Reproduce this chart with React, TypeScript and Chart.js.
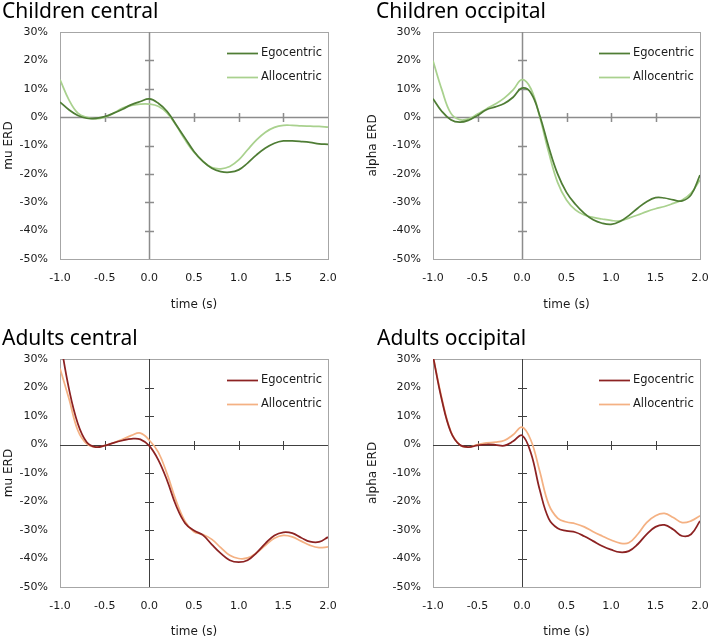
import React, { useEffect, useRef } from "react";
import { Chart, registerables } from "chart.js";

Chart.register(...registerables);

// ---------- data ----------
const TIME = [
  -1.0, -0.9, -0.8, -0.7, -0.6, -0.5, -0.4, -0.3, -0.2, -0.1,
  0.0, 0.1, 0.2, 0.3, 0.4, 0.5, 0.6, 0.7, 0.8, 0.9,
  1.0, 1.1, 1.2, 1.3, 1.4, 1.5, 1.6, 1.7, 1.8, 1.9, 2.0,
];
const X_TICKS = [-1.0, -0.5, 0.0, 0.5, 1.0, 1.5, 2.0];
const Y_TICKS = [-50, -40, -30, -20, -10, 0, 10, 20, 30];
const SERIES_NAMES = ["Egocentric", "Allocentric"];

const CHILD_CENTRAL_EGO = [
  5.3, 2.6, 0.6, -0.4, -0.4, 0.2, 1.4, 2.8, 4.4, 5.5,
  6.4, 4.9, 2.0, -2.7, -7.4, -12.1, -15.6, -18.0, -19.2, -19.4,
  -18.6, -16.2, -13.3, -10.9, -9.2, -8.4, -8.4, -8.6, -8.9, -9.4, -9.6,
];
const CHILD_CENTRAL_ALLO = [
  13.2, 6.1, 1.4, -0.1, -0.6, -0.1, 1.4, 3.2, 4.1, 4.6,
  4.6, 3.8, 1.4, -2.9, -8.0, -12.4, -15.6, -17.8, -18.2, -17.4,
  -15.1, -11.5, -8.0, -5.3, -3.6, -2.9, -2.9, -3.1, -3.2, -3.3, -3.5,
];
const CHILD_OCC_EGO = [
  6.5, 2.0, -0.9, -1.8, -1.1, 0.6, 2.6, 3.6, 4.8, 7.0,
  10.2, 8.5, 0.5, -10.5, -20.0, -26.5, -30.7, -33.9, -36.2, -37.4,
  -37.8, -36.8, -34.7, -32.1, -29.8, -28.4, -28.5, -29.2, -29.5, -27.4, -20.4,
];
const CHILD_OCC_ALLO = [
  19.9, 9.6, 1.4, -0.9, -0.6, 1.1, 2.9, 4.6, 6.7, 9.6,
  13.2, 10.0, 0.0, -12.4, -23.0, -29.2, -32.7, -34.5, -35.3, -35.9,
  -36.4, -36.6, -35.6, -34.5, -33.3, -32.3, -31.5, -30.4, -29.2, -26.8, -22.1,
];
const ADULT_CENTRAL_EGO = [
  37.0, 19.6, 7.3, 0.8, -0.9, -0.4, 0.6, 1.4, 2.0, 1.8,
  -0.5, -5.4, -12.7, -21.5, -27.6, -30.2, -31.8, -35.1, -38.2, -40.6,
  -41.3, -40.6, -38.0, -34.7, -31.9, -30.8, -31.1, -32.7, -34.1, -34.2, -32.5,
];
const ADULT_CENTRAL_ALLO = [
  26.7, 16.1, 4.9, 0.2, -0.9, -0.4, 0.6, 1.8, 3.2, 4.0,
  1.5, -2.7, -10.4, -19.8, -27.0, -30.6, -31.6, -33.3, -36.2, -38.9,
  -40.0, -39.8, -38.0, -35.4, -32.9, -31.9, -32.4, -33.9, -35.4, -36.2, -35.9,
];
const ADULT_OCC_EGO = [
  31.0, 15.5, 4.4, -0.1, -0.9, -0.3, 0.0, -0.1, -0.4, 1.1,
  3.2, -3.0, -16.0, -26.0, -29.4, -30.3, -30.8, -32.2, -33.9, -35.6,
  -36.9, -37.8, -37.4, -35.0, -31.5, -28.9, -28.2, -29.8, -32.1, -31.5, -26.8,
];
const ADULT_OCC_ALLO = [
  31.0, 16.1, 4.6, -0.1, -0.9, 0.0, 0.6, 0.8, 1.4, 3.4,
  6.1, 1.5, -9.5, -21.0, -25.8, -27.2, -27.8, -28.9, -30.6, -32.1,
  -33.5, -34.6, -34.5, -31.5, -27.4, -25.0, -24.2, -25.6, -27.4, -26.8, -25.0,
];

// ---------- styling ----------
const FONT = "'DejaVu Sans', 'Noto Sans', sans-serif";
const TITLE_FONT = "'Noto Sans', 'DejaVu Sans', sans-serif";
const TEXT = "#1a1a1a";

type PanelSpec = {
  title: string;
  yTitle: string;
  ego: number[];
  allo: number[];
  egoColor: string;
  alloColor: string;
  axisColor: string;
  axisWidth: number;
  left: number;
  top: number;
  width: number;
  height: number;
  areaLeft: number;
  areaRight: number;
  areaTop: number;
  areaBottom: number;
  yTitlePad: number;
  titleX: number;
  titleY: number;
};

const crossAxesPlugin = {
  id: "crossAxes",
  beforeDatasetsDraw(chart: any, _args: any, opts: any) {
    const { ctx, chartArea: a, scales } = chart;
    const xs = scales.x;
    const ys = scales.y;
    const x0 = Math.round(xs.getPixelForValue(0)) + 0.5;
    const y0 = Math.round(ys.getPixelForValue(0)) + 0.5;
    ctx.save();
    // plot border
    ctx.strokeStyle = "#a6a6a6";
    ctx.lineWidth = 1;
    ctx.strokeRect(
      Math.round(a.left) + 0.5,
      Math.round(a.top) + 0.5,
      Math.round(a.right) - Math.round(a.left),
      Math.round(a.bottom) - Math.round(a.top)
    );
    // crossing axes
    ctx.strokeStyle = opts.color;
    ctx.lineWidth = opts.width;
    ctx.beginPath();
    ctx.moveTo(x0, a.top);
    ctx.lineTo(x0, a.bottom);
    ctx.moveTo(a.left, y0);
    ctx.lineTo(a.right, y0);
    // tick marks on vertical axis
    Y_TICKS.forEach((v) => {
      if (v === 0 || v === Y_TICKS[0] || v === Y_TICKS[Y_TICKS.length - 1]) return;
      const py = Math.round(ys.getPixelForValue(v)) + 0.5;
      ctx.moveTo(x0 - 4.5, py);
      ctx.lineTo(x0 + 4.5, py);
    });
    // tick marks on horizontal axis
    X_TICKS.forEach((v) => {
      if (v === 0 || v === X_TICKS[0] || v === X_TICKS[X_TICKS.length - 1]) return;
      const px = Math.round(xs.getPixelForValue(v)) + 0.5;
      ctx.moveTo(px, y0 - 4.5);
      ctx.lineTo(px, y0 + 4.5);
    });
    ctx.stroke();
    ctx.restore();
  },
};

const innerLegendPlugin = {
  id: "innerLegend",
  afterDatasetsDraw(chart: any) {
    const { ctx, chartArea: a } = chart;
    ctx.save();
    ctx.font = `11.5px ${FONT}`;
    ctx.textBaseline = "middle";
    ctx.textAlign = "left";
    chart.data.datasets.forEach((ds: any, i: number) => {
      const y = a.top + 21.5 + i * 24;
      ctx.strokeStyle = ds.borderColor;
      ctx.lineWidth = 1.75;
      ctx.beginPath();
      ctx.moveTo(a.right - 101, y);
      ctx.lineTo(a.right - 70, y);
      ctx.stroke();
      ctx.fillStyle = TEXT;
      ctx.fillText(ds.label, a.right - 67, y);
    });
    ctx.restore();
  },
};

function Panel({ spec }: { spec: PanelSpec }) {
  const ref = useRef<HTMLCanvasElement | null>(null);

  useEffect(() => {
    const canvas = ref.current;
    if (!canvas) return;
    const s = spec;
    const tickFont = { family: FONT, size: 11 };
    const titleFont = { family: FONT, size: 12, lineHeight: 1.2 };
    const chart = new Chart(canvas, {
      type: "line",
      data: {
        datasets: [
          {
            label: SERIES_NAMES[0],
            data: TIME.map((t, i) => ({ x: t, y: s.ego[i] })),
            borderColor: s.egoColor,
            backgroundColor: s.egoColor,
            borderWidth: 1.75,
            pointRadius: 0,
            tension: 0.4,
            fill: false,
          },
          {
            label: SERIES_NAMES[1],
            data: TIME.map((t, i) => ({ x: t, y: s.allo[i] })),
            borderColor: s.alloColor,
            backgroundColor: s.alloColor,
            borderWidth: 1.75,
            pointRadius: 0,
            tension: 0.4,
            fill: false,
          },
        ],
      },
      options: {
        responsive: false,
        animation: false,
        events: [],
        layout: {
          padding: { left: 0, top: s.areaTop, right: s.width - s.areaRight, bottom: 0 },
        },
        plugins: {
          legend: { display: false },
          tooltip: { enabled: false },
          title: { display: false },
          crossAxes: { color: s.axisColor, width: s.axisWidth },
        } as any,
        scales: {
          x: {
            type: "linear",
            min: X_TICKS[0],
            max: X_TICKS[X_TICKS.length - 1],
            afterBuildTicks: (sc: any) => {
              sc.ticks = X_TICKS.map((v) => ({ value: v }));
            },
            afterFit: (sc: any) => {
              sc.height = s.height - s.areaBottom;
              sc.paddingLeft = 0;
              sc.paddingRight = 0;
            },
            ticks: {
              callback: (v: any) => Number(v).toFixed(1),
              font: tickFont,
              color: TEXT,
              padding: 12.5,
              maxRotation: 0,
              autoSkip: false,
            },
            grid: { display: false, drawTicks: false },
            border: { display: false },
            title: {
              display: true,
              text: "time (s)",
              font: titleFont,
              color: TEXT,
              padding: { top: 0, bottom: 2.5 },
            },
          },
          y: {
            type: "linear",
            min: Y_TICKS[0],
            max: Y_TICKS[Y_TICKS.length - 1],
            afterBuildTicks: (sc: any) => {
              sc.ticks = Y_TICKS.map((v) => ({ value: v }));
            },
            afterFit: (sc: any) => {
              sc.width = s.areaLeft;
              sc.paddingTop = 0;
              sc.paddingBottom = 0;
            },
            ticks: {
              callback: (v: any) => `${v}%`,
              font: tickFont,
              color: TEXT,
              padding: 12,
              autoSkip: false,
            },
            grid: { display: false, drawTicks: false },
            border: { display: false },
            title: {
              display: true,
              text: s.yTitle,
              font: titleFont,
              color: TEXT,
              padding: { top: s.yTitlePad, bottom: 0 },
            },
          },
        },
      } as any,
      plugins: [crossAxesPlugin, innerLegendPlugin],
    });
    return () => chart.destroy();
  }, [spec]);

  return (
    <>
      <canvas
        ref={ref}
        width={spec.width}
        height={spec.height}
        style={{
          position: "absolute",
          left: spec.left,
          top: spec.top,
          width: spec.width,
          height: spec.height,
          display: "block",
        }}
      />
      <div
        style={{
          position: "absolute",
          left: spec.titleX,
          top: spec.titleY,
          fontFamily: TITLE_FONT,
          fontSize: 21,
          lineHeight: "21px",
          color: "#000",
          whiteSpace: "nowrap",
        }}
      >
        {spec.title}
      </div>
    </>
  );
}

const GREEN_DARK = "#4f7d35";
const GREEN_LIGHT = "#a9d18e";
const RED_DARK = "#8c2222";
const ORANGE_LIGHT = "#f4b183";

const PANELS: PanelSpec[] = [
  {
    title: "Children central",
    yTitle: "mu ERD",
    ego: CHILD_CENTRAL_EGO,
    allo: CHILD_CENTRAL_ALLO,
    egoColor: GREEN_DARK,
    alloColor: GREEN_LIGHT,
    axisColor: "#8c8c8c",
    axisWidth: 1.5,
    left: 0, top: 0, width: 362, height: 315,
    areaLeft: 60, areaRight: 328, areaTop: 32, areaBottom: 259,
    yTitlePad: 1.6,
    titleX: 2, titleY: 0,
  },
  {
    title: "Children occipital",
    yTitle: "alpha ERD",
    ego: CHILD_OCC_EGO,
    allo: CHILD_OCC_ALLO,
    egoColor: GREEN_DARK,
    alloColor: GREEN_LIGHT,
    axisColor: "#8c8c8c",
    axisWidth: 1.5,
    left: 362, top: 0, width: 347, height: 315,
    areaLeft: 71, areaRight: 338, areaTop: 32, areaBottom: 259,
    yTitlePad: 3.8,
    titleX: 376, titleY: 0,
  },
  {
    title: "Adults central",
    yTitle: "mu ERD",
    ego: ADULT_CENTRAL_EGO,
    allo: ADULT_CENTRAL_ALLO,
    egoColor: RED_DARK,
    alloColor: ORANGE_LIGHT,
    axisColor: "#404040",
    axisWidth: 1,
    left: 0, top: 327, width: 362, height: 315,
    areaLeft: 60, areaRight: 328, areaTop: 32, areaBottom: 260,
    yTitlePad: 1.6,
    titleX: 2, titleY: 327,
  },
  {
    title: "Adults occipital",
    yTitle: "alpha ERD",
    ego: ADULT_OCC_EGO,
    allo: ADULT_OCC_ALLO,
    egoColor: RED_DARK,
    alloColor: ORANGE_LIGHT,
    axisColor: "#404040",
    axisWidth: 1,
    left: 362, top: 327, width: 347, height: 315,
    areaLeft: 71, areaRight: 338, areaTop: 32, areaBottom: 260,
    yTitlePad: 3.8,
    titleX: 377, titleY: 327,
  },
];

export default function App() {
  return (
    <div
      style={{
        position: "absolute",
        left: 0,
        top: 0,
        width: 709,
        height: 642,
        overflow: "hidden",
        background: "#ffffff",
      }}
    >
      {PANELS.map((p) => (
        <Panel key={p.title} spec={p} />
      ))}
    </div>
  );
}
